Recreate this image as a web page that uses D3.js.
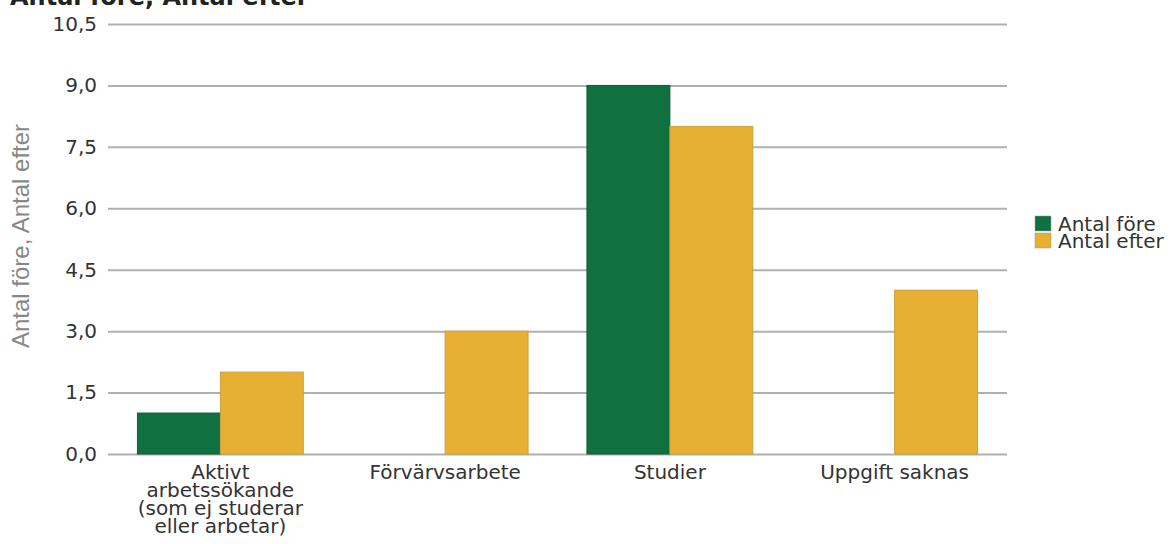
<!DOCTYPE html>
<html>
<head>
<meta charset="utf-8">
<script src="https://cdn.jsdelivr.net/npm/d3@7"></script>
<style>
  body { margin: 0; background: #fff; }
  text { font-family: "DejaVu Sans", sans-serif; }
</style>
</head>
<body>
<script>
var width = 1173, height = 544;

// data
var categories = [
  ["Aktivt", "arbetssökande", "(som ej studerar", "eller arbetar)"],
  ["Förvärvsarbete"],
  ["Studier"],
  ["Uppgift saknas"]
];
var seriesNames = ["Antal före", "Antal efter"];
var antalFore = [1, 0, 9, 0];
var antalEfter = [2, 3, 8, 4];
var yTicks = [0, 1.5, 3, 4.5, 6, 7.5, 9, 10.5];
var colors = ["#10703f", "#e8b032"];

var rows = categories.map(function(c, i) {
  return {key: i, label: c, values: [antalFore[i], antalEfter[i]]};
});

var svg = d3.select("body").append("svg")
  .attr("width", width)
  .attr("height", height);

var y = d3.scaleLinear().domain([0, 10.5]).range([454, 24]);
var x0 = d3.scaleBand().domain(rows.map(function(d) { return d.key; }))
  .range([108, 1007]).padding(0);
var x1 = d3.scaleBand().domain([0, 1])
  .range([0, x0.bandwidth()]).paddingInner(0).paddingOuter(0.355);

// title (partly cut off at the top)
svg.append("text")
  .attr("x", 10).attr("y", 5)
  .style("font-weight", "bold").style("font-size", "24px").style("fill", "#222")
  .text("Antal före, Antal efter");

// grid + y axis
var fmt = function(v) { return d3.format(".1f")(v).replace(".", ","); };
var yAxis = svg.append("g")
  .attr("transform", "translate(108,0)")
  .call(d3.axisLeft(y).tickValues(yTicks).tickFormat(fmt).tickSize(-899).tickPadding(11));
yAxis.select(".domain").remove();
yAxis.selectAll("line").attr("stroke", "#b0b0b0").attr("stroke-width", 2);
yAxis.selectAll("text").style("font-size", "20px").style("fill", "#333")
  .style("font-family", "'DejaVu Sans', sans-serif");

// y axis title
svg.append("text")
  .attr("transform", "translate(29,236) rotate(-90)")
  .attr("text-anchor", "middle")
  .style("font-family", "'Liberation Sans', Arial, sans-serif")
  .style("font-size", "24px").style("fill", "#888")
  .text("Antal före, Antal efter");

// bars
var groups = svg.selectAll(".grp").data(rows).enter().append("g")
  .attr("class", "grp")
  .attr("transform", function(d) { return "translate(" + x0(d.key) + ",0)"; });

groups.selectAll("rect")
  .data(function(d) { return d.values.map(function(v, j) { return {s: j, v: v}; }); })
  .enter().append("rect")
  .filter(function(d) { return d.v > 0; })
  .attr("x", function(d) { return x1(d.s); })
  .attr("y", function(d) { return y(d.v); })
  .attr("width", x1.bandwidth())
  .attr("height", function(d) { return y(0) - y(d.v); })
  .attr("fill", function(d) { return colors[d.s]; })
  .attr("stroke", function(d) { return d.s === 0 ? "#0c5e35" : "#c9a040"; })
  .attr("stroke-width", 1);

// x labels
var xl = svg.selectAll(".xl").data(rows).enter().append("text")
  .attr("class", "xl")
  .attr("text-anchor", "middle")
  .style("font-size", "20px").style("fill", "#333")
  .attr("x", function(d) { return x0(d.key) + x0.bandwidth() / 2; })
  .attr("y", 479);
xl.selectAll("tspan").data(function(d) { return d.label; }).enter().append("tspan")
  .attr("x", function() { return d3.select(this.parentNode).attr("x"); })
  .attr("dy", function(d, i) { return i === 0 ? 0 : 18; })
  .text(function(d) { return d; });

// legend
var leg = svg.selectAll(".leg").data(seriesNames).enter().append("g")
  .attr("class", "leg")
  .attr("transform", function(d, i) { return "translate(1035," + (216 + i * 17) + ")"; });
leg.append("rect").attr("width", 16).attr("height", 15)
  .attr("fill", function(d, i) { return colors[i]; })
  .attr("stroke", "#999").attr("stroke-width", 0.5);
leg.append("text").attr("x", 23).attr("y", 15)
  .style("font-size", "20px").style("fill", "#333")
  .text(function(d) { return d; });
</script>
</body>
</html>
